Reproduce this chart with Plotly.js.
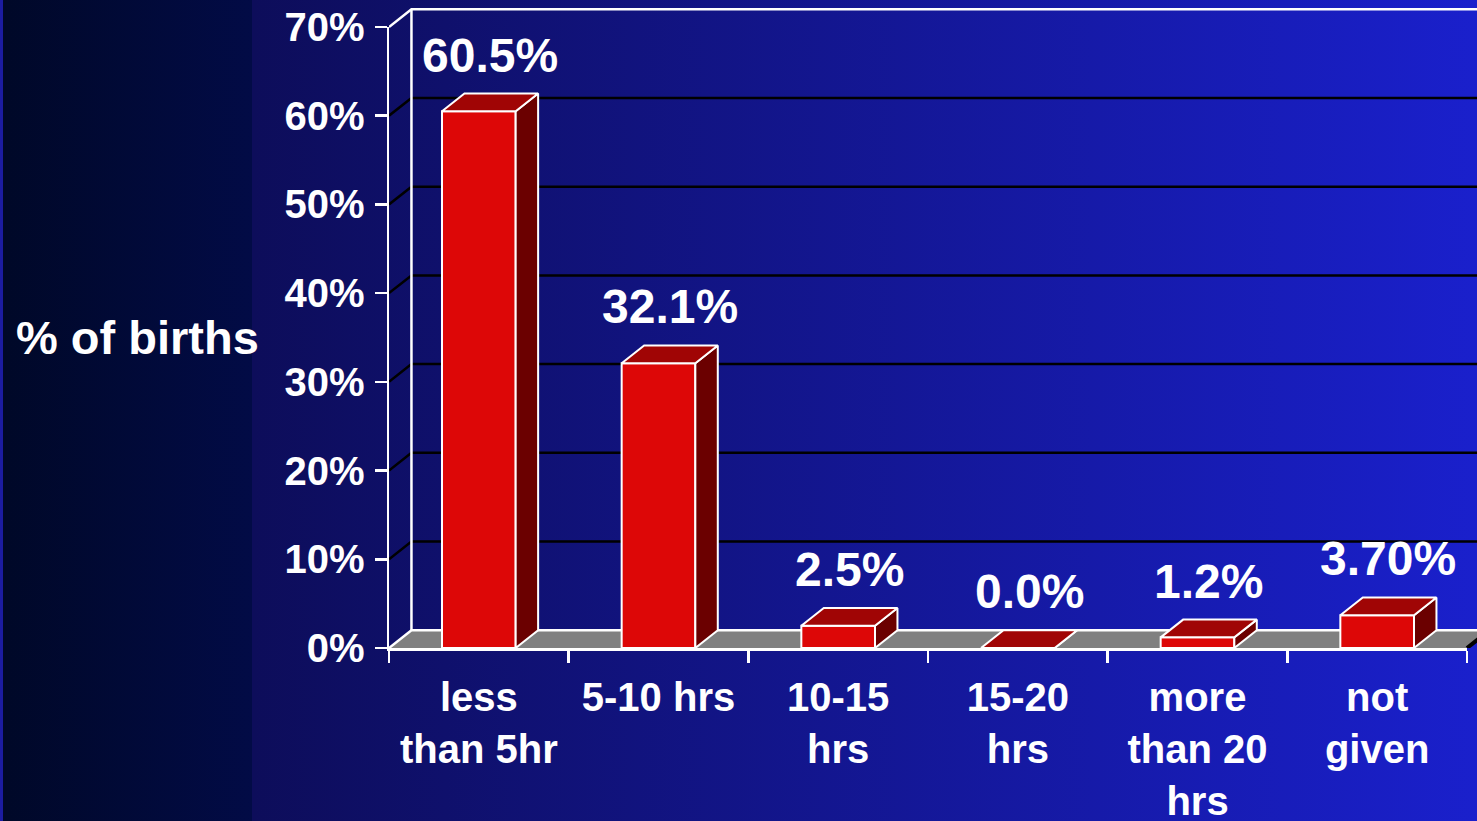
<!DOCTYPE html>
<html>
<head>
<meta charset="utf-8">
<script src="https://cdn.plot.ly/plotly-3.0.1.min.js"></script>
<style>
  html, body { margin: 0; padding: 0; }
  #chart {
    width: 1477px; height: 821px;
    background: linear-gradient(to right,
      #1c1ca0 0px, #1c1ca0 3px,
      #000828 3px, #020b46 252px,
      #0d0d5a 252px, #1a20cc 1477px);
  }
</style>
</head>
<body>
<div id="chart"></div>
<script>
// ---- data ----
const categories = ['less<br>than 5hr', '5-10 hrs', '10-15<br>hrs', '15-20<br>hrs', 'more<br>than 20<br>hrs', 'not<br>given'];
const values = [60.5, 32.1, 2.5, 0.0, 1.2, 3.7];
const valueLabels = ['60.5%', '32.1%', '2.5%', '0.0%', '1.2%', '3.70%'];
const yTickVals = [0, 10, 20, 30, 40, 50, 60, 70];
const yTickText = ['0%', '10%', '20%', '30%', '40%', '50%', '60%', '70%'];
const yTitle = '% of births';

// ---- style constants (3D depth in axis units) ----
const DX = 0.125, DY = 2.0, BW = 0.41;
const FONT = 'Arial, "Liberation Sans", sans-serif';
const xs = categories.map((c, i) => i);
const xMin = -0.5, xMax = categories.length - 0.5;
const yMax = yTickVals[yTickVals.length - 1];

// plot geometry
const L = 389, T = 5, B = 173, W = 1477, H = 821;
const unitX = (1467 - 389) / categories.length;  // px per category
const unitY = 621 / yMax;                          // px per percent
const paperW = W - L, paperH = H - T - B;
const xMaxFull = xMin + paperW / unitX;
const yMaxFull = paperH / unitY;

const traces = [];
// floor (structure subplot xy)
traces.push({
  type: 'scatter', mode: 'lines', xaxis: 'x', yaxis: 'y',
  x: [xMin, xMax, xMax + DX, xMin + DX, xMin],
  y: [0, 0, DY, DY, 0],
  fill: 'toself', fillcolor: '#808080', line: {width: 0, color: 'rgba(0,0,0,0)'},
  hoverinfo: 'skip', showlegend: false
});
// black gridlines on back wall
const gx = [], gy = [];
yTickVals.filter(v => v > 0 && v < yMax).forEach(v => {
  gx.push(xMin, xMin + DX, xMax + DX, null);
  gy.push(v, v + DY, v + DY, null);
});
traces.push({
  type: 'scatter', mode: 'lines', xaxis: 'x', yaxis: 'y',
  x: gx, y: gy, line: {color: '#000000', width: 2.5},
  hoverinfo: 'skip', showlegend: false
});
// white wall edges
traces.push({
  type: 'scatter', mode: 'lines', xaxis: 'x', yaxis: 'y',
  x: [xMin, xMin + DX, xMax + DX, null,
      xMin + DX, xMin + DX, null,
      xMin, xMin + DX, xMax + DX],
  y: [0, DY, DY, null,
      DY, yMax + DY, null,
      yMax, yMax + DY, yMax + DY],
  line: {color: '#ffffff', width: 2.5},
  hoverinfo: 'skip', showlegend: false
});
// dark right end of floor
traces.push({
  type: 'scatter', mode: 'lines', xaxis: 'x', yaxis: 'y',
  x: [xMax, xMax + DX], y: [0, DY],
  line: {color: '#000000', width: 4},
  hoverinfo: 'skip', showlegend: false
});

// bars: front faces (subplot x2y2)
traces.push({
  type: 'bar', xaxis: 'x2', yaxis: 'y2',
  x: xs, y: values, width: BW,
  marker: {color: '#dd0707', line: {color: '#ffffff', width: 2}},
  hoverinfo: 'skip', showlegend: false
});
// top and side faces
const tx = [], ty = [], sx = [], sy = [];
xs.forEach((x, i) => {
  const v = values[i], l = x - BW / 2, r = x + BW / 2;
  tx.push(l, l + DX, r + DX, r, l, null);
  ty.push(v, v + DY, v + DY, v, v, null);
  sx.push(r, r, r + DX, r + DX, r, null);
  sy.push(0, v, v + DY, DY, 0, null);
});
traces.push({
  type: 'scatter', mode: 'lines', xaxis: 'x2', yaxis: 'y2',
  x: sx, y: sy, fill: 'toself', fillcolor: '#6b0000',
  line: {color: '#ffffff', width: 2},
  hoverinfo: 'skip', showlegend: false
});
traces.push({
  type: 'scatter', mode: 'lines', xaxis: 'x2', yaxis: 'y2',
  x: tx, y: ty, fill: 'toself', fillcolor: '#a00505',
  line: {color: '#ffffff', width: 2},
  hoverinfo: 'skip', showlegend: false
});

const annotations = xs.map((x, i) => ({
  xref: 'x2', yref: 'y2', x: x + DX / 2, y: values[i] + DY,
  text: valueLabels[i], showarrow: false, yanchor: 'bottom', yshift: 10,
  font: {family: FONT, size: 48, color: '#ffffff', weight: 'bold'}
}));
annotations.push({
  xref: 'paper', yref: 'paper',
  x: (137 - L) / paperW, y: (648 - 337) / paperH,
  xanchor: 'center', yanchor: 'middle',
  text: yTitle, showarrow: false,
  font: {family: FONT, size: 47, color: '#ffffff', weight: 'bold'}
});

const layout = {
  width: W, height: H,
  margin: {l: L, r: 0, t: T, b: B, pad: 0},
  paper_bgcolor: 'rgba(0,0,0,0)', plot_bgcolor: 'rgba(0,0,0,0)',
  font: {family: FONT, color: '#ffffff', weight: 'bold'},
  showlegend: false,
  xaxis: {domain: [0, 1], range: [xMin, xMaxFull], visible: false, fixedrange: true},
  yaxis: {domain: [0, 1], range: [0, yMaxFull], visible: false, fixedrange: true},
  xaxis2: {
    domain: [0, (1467 - L) / paperW], range: [xMin, xMax], anchor: 'y2',
    showline: true, linecolor: '#ffffff', linewidth: 2.5,
    showgrid: false, zeroline: false,
    tickmode: 'array', tickvals: xs, ticktext: categories, ticks: '',
    ticklabelstandoff: 12,
    tickfont: {family: FONT, size: 40, color: '#ffffff', weight: 'bold'},
    minor: {tickmode: 'array', tickvals: xs.map(x => x - 0.5).concat([xMax]),
            ticks: 'outside', ticklen: 12, tickwidth: 2.5, tickcolor: '#ffffff', showgrid: false},
    fixedrange: true
  },
  yaxis2: {
    domain: [0, 621 / paperH], range: [0, yMax], anchor: 'x2',
    showline: true, linecolor: '#ffffff', linewidth: 2.5,
    showgrid: false, zeroline: false,
    tickmode: 'array', tickvals: yTickVals, ticktext: yTickText,
    ticks: 'outside', ticklen: 12, tickwidth: 2.5, tickcolor: '#ffffff',
    ticklabelstandoff: 2,
    tickfont: {family: FONT, size: 40, color: '#ffffff', weight: 'bold'},
    fixedrange: true
  },
  annotations: annotations
};

Plotly.newPlot('chart', traces, layout, {displayModeBar: false, staticPlot: true});
</script>
</body>
</html>
